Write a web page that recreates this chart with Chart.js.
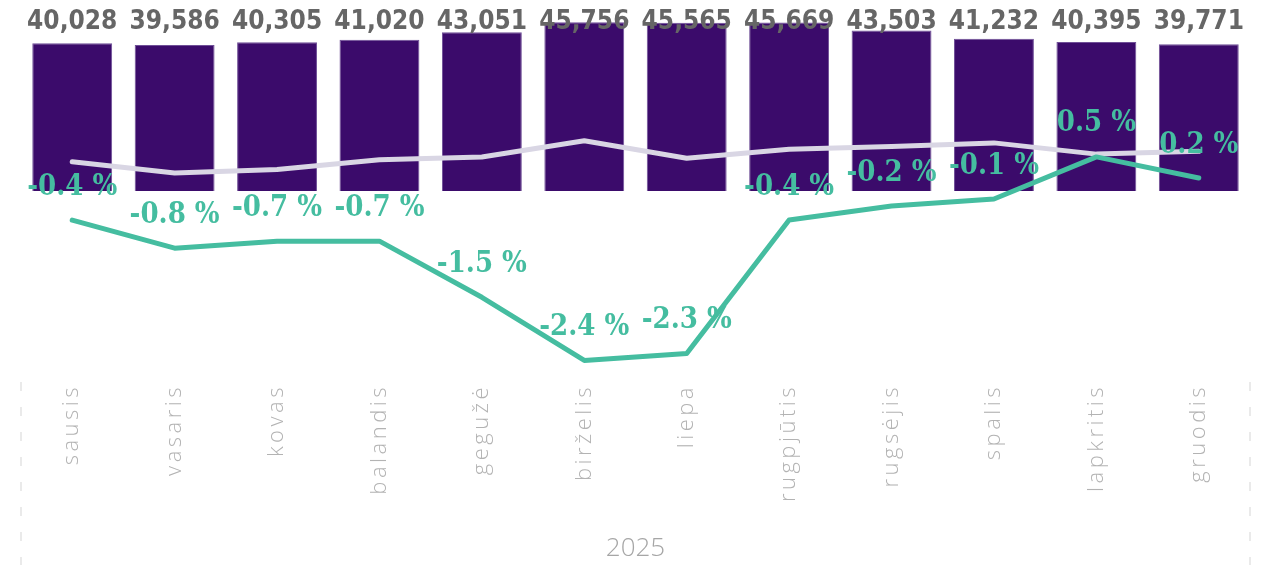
<!DOCTYPE html>
<html>
<head>
<meta charset="utf-8">
<script src="https://cdn.jsdelivr.net/npm/chart.js@4/dist/chart.umd.min.js"></script>
<style>
  html,body{margin:0;padding:0;background:#fff;}
  canvas{display:block;}
</style>
</head>
<body>
<canvas id="chart" width="1261" height="565"></canvas>
<script>
/* monthly totals, month-on-month change and the light trend line */
const MONTHS = ['sausis','vasaris','kovas','balandis','gegužė','birželis','liepa','rugpjūtis','rugsėjis','spalis','lapkritis','gruodis'];
const VALUES = [40028,39586,40305,41020,43051,45756,45565,45669,43503,41232,40395,39771];
const CHANGE = [-0.4,-0.8,-0.7,-0.7,-1.5,-2.4,-2.3,-0.4,-0.2,-0.1,0.5,0.2];
const TREND  = [0.43,0.27,0.32,0.46,0.50,0.73,0.48,0.61,0.65,0.70,0.54,0.58];
const YEAR = '2025';

const PURPLE = '#3b0b6b', GREEN = '#45bda0', LAVENDER = '#d9d6e4';

const fmtNum = v => v.toLocaleString('en-US');
const fmtPct = v => v.toFixed(1) + ' %';

/* value labels: totals on top row, % change above line points */
const labelsPlugin = {
  id:'labels',
  afterDatasetsDraw(chart){
    const ctx = chart.ctx, top = chart.chartArea.top;
    ctx.save();
    ctx.letterSpacing = '0px';
    ctx.textAlign = 'center';
    ctx.textBaseline = 'middle';

    ctx.font = 'bold 26px "DejaVu Sans Condensed", "DejaVu Sans", sans-serif';
    ctx.fillStyle = '#666666';
    chart.getDatasetMeta(2).data.forEach((bar,i)=>{
      ctx.fillText(fmtNum(VALUES[i]), bar.x, top + 12);
    });

    ctx.font = 'bold 29px "DejaVu Serif Condensed", "DejaVu Serif", serif';
    ctx.fillStyle = GREEN;
    chart.getDatasetMeta(0).data.forEach((pt,i)=>{
      ctx.fillText(fmtPct(CHANGE[i]), pt.x, pt.y - 33);
    });
    ctx.restore();
  }
};

/* dashed separators at both ends of the category axis */
const edgesPlugin = {
  id:'edges',
  afterDraw(chart){
    const ctx = chart.ctx, xs = chart.scales.x;
    ctx.save();
    ctx.strokeStyle = '#e4e4e4';
    ctx.lineWidth = 1.5;
    ctx.setLineDash([9,16]);
    [xs.left, xs.right].forEach(x=>{
      ctx.beginPath();
      ctx.moveTo(x, xs.top + 10);
      ctx.lineTo(x, chart.height);
      ctx.stroke();
    });
    ctx.restore();
  }
};

/* spaced-out month names (title keeps normal spacing) */
const spacingPlugin = {
  id:'spacing',
  afterLayout(chart){
    const s = chart.scales.x;
    if(s._spaced) return;
    const orig = s.drawLabels.bind(s);
    s.drawLabels = function(area){
      chart.ctx.save();
      chart.ctx.letterSpacing = '3.5px';
      orig(area);
      chart.ctx.restore();
    };
    s._spaced = true;
  }
};

new Chart(document.getElementById('chart'), {
  data:{
    labels: MONTHS,
    datasets:[
      {type:'line', label:'Pokytis', data:CHANGE, yAxisID:'pct', order:0,
       borderColor:GREEN, borderWidth:5, pointRadius:0, tension:0,
       borderCapStyle:'round', borderJoinStyle:'round'},
      {type:'line', label:'Tendencija', data:TREND, yAxisID:'pct', order:1,
       borderColor:LAVENDER, borderWidth:5, pointRadius:0, tension:0,
       borderCapStyle:'round', borderJoinStyle:'round'},
      {type:'bar', label:'Iš viso', data:VALUES, yAxisID:'y', order:2,
       backgroundColor:PURPLE, borderColor:'#6f4f97', borderWidth:1,
       categoryPercentage:1, barPercentage:0.78}
    ]
  },
  options:{
    responsive:false,
    animation:false,
    layout:{padding:{left:21, right:11, top:10, bottom:0}},
    plugins:{legend:{display:false}, tooltip:{enabled:false}},
    scales:{
      x:{
        offset:true,
        grid:{display:false, drawTicks:false},
        border:{display:false},
        ticks:{
          autoSkip:false, minRotation:90, maxRotation:90, padding:12,
          color:'#b3b3b3',
          font:{family:'"Open Sans", sans-serif', size:22, weight:300}
        },
        title:{
          display:true, text:YEAR, color:'#a6a6a6', padding:{top:0, bottom:1},
          font:{family:'"Open Sans", sans-serif', size:26, weight:300}
        },
        afterFit(scale){ scale.height = 193; }
      },
      y:{display:false, min:-49050, max:49050},
      pct:{display:false, position:'right', min:-2.564, max:2.593}
    }
  },
  plugins:[labelsPlugin, edgesPlugin, spacingPlugin]
});
</script>
</body>
</html>
